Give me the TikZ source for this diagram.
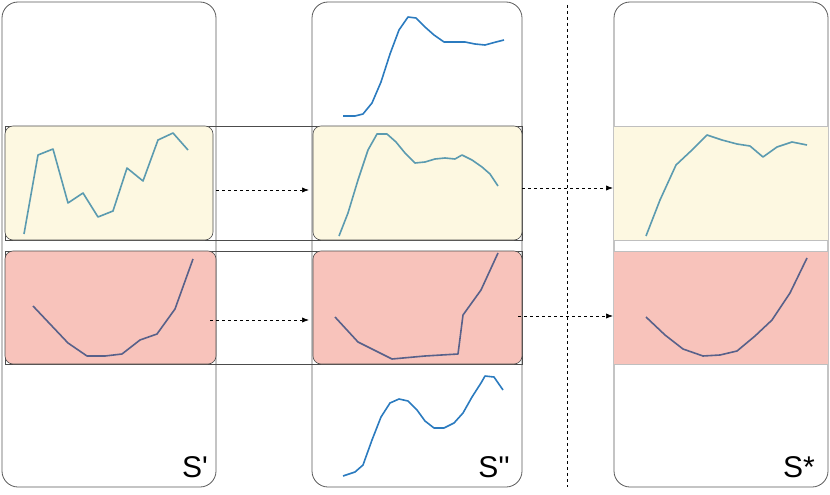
\documentclass[tikz,border=0pt]{standalone}
\usepackage{fontspec}
\setmainfont{Liberation Sans}[Ligatures=TeXOff]
\usetikzlibrary{arrows.meta}
\definecolor{yel}{HTML}{FDF8E1}
\definecolor{redf}{HTML}{F8C3BB}
\definecolor{teal}{HTML}{5B9BB0}
\definecolor{slate}{HTML}{58618A}
\definecolor{blu}{HTML}{2B7BBF}
\tikzset{
 panel/.style={draw=black!65,rounded corners=16pt,line width=0.8pt},
 band/.style={draw=black!70,rounded corners=8pt,line width=0.6pt},
 curve/.style={line width=1.6pt,line join=round},
 arr/.style={dashed,-{Latex[length=7pt]},line width=0.7pt},
 lab/.style={font=\fontsize{30}{32}\selectfont,anchor=south east,inner sep=0pt}
}
\begin{document}
\begin{tikzpicture}[x=1pt,y=-1pt]
\useasboundingbox (0,0) rectangle (830,495);
\draw[panel] (2,2) rectangle (216,487);
\draw[panel] (312,2) rectangle (522,487);
\draw[panel] (614,2) rectangle (828,487);
% spanning outlines
\draw[black!70,line width=0.6pt] (5,126) rectangle (522,240);
\draw[black!70,line width=0.6pt] (5,251) rectangle (522,364);
\draw[band,fill=yel] (5,126) rectangle (213,240);
\draw[band,fill=redf] (5,251) rectangle (216,364);
\draw[band,fill=yel] (313,126) rectangle (522,240);
\draw[band,fill=redf] (313,251) rectangle (522,364);
\fill[yel] (614,126) rectangle (828,240);
\draw[black!25,line width=0.6pt] (614,126) -- (828,126) (614,240)--(828,240);
\fill[redf] (614,251) rectangle (828,364);
\draw[black!25,line width=0.6pt] (614,251) -- (828,251) (614,364)--(828,364);
\draw[dashed,line width=0.7pt] (567,5) -- (567,487);
\coordinate (a1) at (216,190); \coordinate (b1) at (309,190);
\coordinate (a2) at (522,188); \coordinate (b2) at (613,188);
\coordinate (a3) at (210,320); \coordinate (b3) at (309,320);
\coordinate (a4) at (518,316); \coordinate (b4) at (613,316);
\draw[arr] (a1)--(b1); \draw[arr] (a2)--(b2); \draw[arr] (a3)--(b3); \draw[arr] (a4)--(b4);
\draw[curve,teal] (24,234)--(38,155)--(53,149)--(68,203)--(83,193)--(98,217)--(113,211)--(127,168)--(143,181)--(158,140)--(173,133)--(188,150);
\draw[curve,teal] (339,236)--(348,213)--(358,180)--(368,150)--(377,134)--(387,134)--(396,142)--(405,153)--(415,163)--(425,162)--(435,159)--(445,158)--(455,159)--(462,155)--(472,160)--(482,167)--(490,174)--(498,186);
\draw[curve,teal] (646,236)--(660,200)--(676,165)--(692,150)--(707,135)--(722,140)--(737,144)--(750,146)--(763,157)--(777,147)--(792,142)--(807,145);
\draw[curve,slate] (33,306)--(50,324)--(68,343)--(87,356)--(105,356)--(122,354)--(140,340)--(157,334)--(175,309)--(193,259);
\draw[curve,slate] (335,317)--(358,342)--(392,359)--(425,356)--(458,354)--(463,315)--(481,290)--(498,253);
\draw[curve,slate] (646,317)--(665,335)--(683,349)--(703,356)--(720,355)--(737,351)--(755,336)--(772,320)--(790,293)--(807,258);
\draw[curve,blu] (343,116)--(355,116)--(363,114)--(372,103)--(381,82)--(390,54)--(399,30)--(408,17)--(416,18)--(425,27)--(434,35)--(444,42)--(454,42)--(465,42)--(475,44)--(485,45)--(496,42)--(504,40);
\draw[curve,blu] (343,476)--(355,472)--(363,465)--(372,440)--(381,417)--(390,403)--(399,399)--(408,401)--(417,410)--(425,421)--(434,428)--(444,428)--(454,423)--(463,413)--(472,397)--(481,383)--(485,376)--(494,377)--(503,390);
\node[lab] (l1) at (208,478) {S'};
\node[lab] (l2) at (510,478) {S''};
\node[lab] (l3) at (815,478) {S*};
\end{tikzpicture}
\end{document}
